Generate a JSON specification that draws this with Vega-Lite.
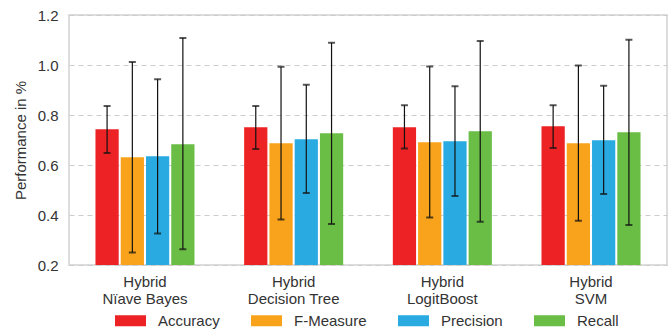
{
  "$schema": "https://vega.github.io/schema/vega-lite/v6.json",
  "width": 598,
  "height": 250,
  "autosize": "none",
  "padding": {"left": 69, "top": 15, "right": 5, "bottom": 68},
  "config": {
    "font": "Liberation Sans",
    "view": {"stroke": "#d2d2d2", "strokeWidth": 1.5},
    "axis": {"domain": false, "ticks": false, "labelFontSize": 15, "labelColor": "#333", "titleColor": "#333", "titleFontSize": 15, "titleFontWeight": "normal"}
  },
  "data": {
    "values": [
      {"group": "Hybrid\nNïave Bayes", "metric": "Accuracy", "value": 0.743, "lo": 0.648, "hi": 0.836},
      {"group": "Hybrid\nNïave Bayes", "metric": "F-Measure", "value": 0.631, "lo": 0.25, "hi": 1.012},
      {"group": "Hybrid\nNïave Bayes", "metric": "Precision", "value": 0.635, "lo": 0.326, "hi": 0.943},
      {"group": "Hybrid\nNïave Bayes", "metric": "Recall", "value": 0.683, "lo": 0.263, "hi": 1.108},
      {"group": "Hybrid\nDecision Tree", "metric": "Accuracy", "value": 0.751, "lo": 0.664, "hi": 0.836},
      {"group": "Hybrid\nDecision Tree", "metric": "F-Measure", "value": 0.687, "lo": 0.382, "hi": 0.993},
      {"group": "Hybrid\nDecision Tree", "metric": "Precision", "value": 0.703, "lo": 0.488, "hi": 0.921},
      {"group": "Hybrid\nDecision Tree", "metric": "Recall", "value": 0.727, "lo": 0.364, "hi": 1.089},
      {"group": "Hybrid\nLogitBoost", "metric": "Accuracy", "value": 0.751, "lo": 0.666, "hi": 0.839},
      {"group": "Hybrid\nLogitBoost", "metric": "F-Measure", "value": 0.691, "lo": 0.39, "hi": 0.994},
      {"group": "Hybrid\nLogitBoost", "metric": "Precision", "value": 0.695, "lo": 0.476, "hi": 0.915},
      {"group": "Hybrid\nLogitBoost", "metric": "Recall", "value": 0.735, "lo": 0.373, "hi": 1.096},
      {"group": "Hybrid\nSVM", "metric": "Accuracy", "value": 0.755, "lo": 0.668, "hi": 0.839},
      {"group": "Hybrid\nSVM", "metric": "F-Measure", "value": 0.687, "lo": 0.377, "hi": 0.998},
      {"group": "Hybrid\nSVM", "metric": "Precision", "value": 0.699, "lo": 0.484, "hi": 0.917},
      {"group": "Hybrid\nSVM", "metric": "Recall", "value": 0.731, "lo": 0.36, "hi": 1.101}
    ]
  },
  "encoding": {
    "x": {
      "field": "group", "type": "nominal", "sort": null,
      "scale": {"paddingInner": 0.334, "paddingOuter": 0.178},
      "axis": {"title": null, "labelAngle": 0, "labelPadding": 9, "labelLineHeight": 17, "labelExpr": "split(datum.label, '\\n')"}
    },
    "xOffset": {"field": "metric", "type": "nominal", "scale": {"paddingInner": 0.08, "paddingOuter": 0}}
  },
  "layer": [
    {
      "mark": {"type": "bar"},
      "encoding": {
        "y": {
          "field": "value", "type": "quantitative",
          "scale": {"domain": [0.2, 1.2], "nice": false, "zero": false},
          "axis": {"title": "Performance in %", "values": [0.2, 0.4, 0.6, 0.8, 1.0, 1.2], "format": ".1f", "labelPadding": 11, "titlePadding": 9, "grid": true, "gridColor": "#cccccc", "gridDash": [5, 4], "gridWidth": 1.2}
        },
        "y2": {"datum": 0.2},
        "color": {
          "field": "metric", "type": "nominal",
          "scale": {"domain": ["Accuracy", "F-Measure", "Precision", "Recall"], "range": ["#ED2224", "#F8A31B", "#29ABE2", "#6ABD45"]},
          "legend": {"title": null, "orient": "none", "legendX": 46, "legendY": 290, "direction": "horizontal", "padding": 0, "symbolType": "M-1,-0.355h2v0.71h-2z", "symbolSize": 961, "symbolStrokeWidth": 0, "symbolOpacity": 1, "labelFontSize": 15, "labelColor": "#333", "labelOffset": 12, "columnPadding": 31}
        }
      }
    },
    {
      "mark": {"type": "rule", "color": "#111", "strokeWidth": 1.2},
      "encoding": {"y": {"field": "lo", "type": "quantitative"}, "y2": {"field": "hi"}}
    },
    {
      "mark": {"type": "tick", "color": "#111", "thickness": 2, "size": 7},
      "encoding": {"y": {"field": "lo", "type": "quantitative"}}
    },
    {
      "mark": {"type": "tick", "color": "#111", "thickness": 2, "size": 7},
      "encoding": {"y": {"field": "hi", "type": "quantitative"}}
    }
  ]
}
